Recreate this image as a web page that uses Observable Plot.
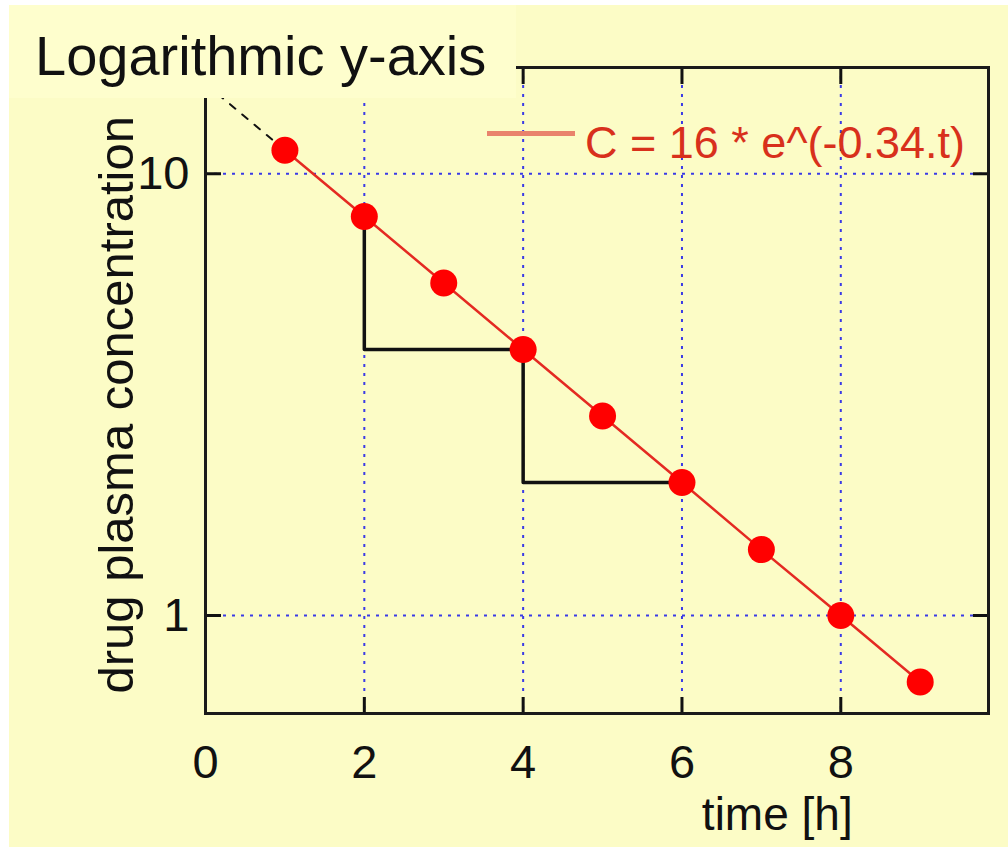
<!DOCTYPE html>
<html>
<head>
<meta charset="utf-8">
<script src="https://cdn.jsdelivr.net/npm/d3@7"></script>
<script src="https://cdn.jsdelivr.net/npm/@observablehq/plot@0.6"></script>
<style>
  html, body { margin: 0; padding: 0; background: #ffffff; }
  #wrap { position: relative; width: 1008px; height: 847px; background: #ffffff; overflow: hidden; }
  #chart { position: absolute; left: 9px; top: 5px; }
  #title { position: absolute; left: 9px; top: 5px; width: 507px; height: 93px; background: #fefecd; }
  #title span { position: absolute; left: 26px; top: 23px; font: 56px/1 "Liberation Sans", Arial, sans-serif; color: #111; white-space: nowrap; }
  #legend { position: absolute; left: 487px; top: 118px; height: 45px; white-space: nowrap; }
  #legend svg { position: absolute; left: 0; top: 0; }
  #legend span { position: absolute; left: 98px; top: 2px; font: 45px/1 "Liberation Sans", Arial, sans-serif; color: #d8301c; }
</style>
</head>
<body>
<div id="wrap">
  <div id="chart"></div>
  <div id="title"><span>Logarithmic y-axis</span></div>
  <div id="legend"></div>
</div>
<script>
// ---- data ----
const times = [1, 2, 3, 4, 5, 6, 7, 8, 9];
const concentrations = [11.3, 8, 5.66, 4, 2.83, 2, 1.41, 1, 0.707];
const extrapTimes = [0, 1];
const extrapValues = [16, 11.3];
const stepTimes = [2, 2, 4, 4, 6];
const stepValues = [8, 4, 4, 2, 2];
const xTicks = [0, 2, 4, 6, 8];
const xGrid = [2, 4, 6, 8];
const yTicks = [1, 10];
const titleText = "Logarithmic y-axis";
const xLabel = "time [h]";
const yLabel = "drug plasma concentration";
const legendText = "C = 16 * e^(-0.34.t)";

const points = times.map((t, i) => ({t, c: concentrations[i]}));
const extrap = extrapTimes.map((t, i) => ({t, c: extrapValues[i]}));
const steps = stepTimes.map((t, i) => ({t, c: stepValues[i]}));

const font = '"Liberation Sans", Arial, sans-serif';
const gridStyle = {stroke: "#3a3ae6", strokeOpacity: 1, strokeWidth: 2, strokeDasharray: "3,6"};

const chart = Plot.plot({
  width: 999,
  height: 842,
  marginLeft: 196,
  marginRight: 20,
  marginTop: 62,
  marginBottom: 134,
  style: {background: "#fcfcc6", fontFamily: font, fontSize: "47px", color: "#111"},
  x: {domain: [0, 9.86], axis: null},
  y: {type: "log", domain: [0.6, 17.4], axis: null},
  marks: [
    Plot.gridX(xGrid, gridStyle),
    Plot.gridY(yTicks, gridStyle),
    // axes with inward ticks
    Plot.axisX(xTicks, {anchor: "bottom", label: null, tickSize: -16, tickPadding: 47, tickFormat: d => String(d), stroke: "#111", strokeWidth: 3, fill: "#111", fontSize: 47}),
    Plot.axisX(xGrid, {anchor: "top", label: null, tickSize: -16, tickFormat: () => "", stroke: "#111", strokeWidth: 3}),
    Plot.axisY(yTicks, {anchor: "left", label: null, tickSize: -16, tickPadding: 32, tickFormat: d => String(d), stroke: "#111", strokeWidth: 3, fill: "#111", fontSize: 47}),
    Plot.axisY(yTicks, {anchor: "right", label: null, tickSize: -16, tickFormat: () => "", stroke: "#111", strokeWidth: 3}),
    Plot.frame({stroke: "#1a1a1a", strokeWidth: 3}),
    // dashed extrapolation
    Plot.line(extrap, {x: "t", y: "c", stroke: "#111", strokeWidth: 2, strokeDasharray: "7,9"}),
    // half-life steps
    Plot.line(steps, {x: "t", y: "c", stroke: "#111", strokeWidth: 3.5, curve: "linear"}),
    // fitted line
    Plot.line(points, {x: "t", y: "c", stroke: "#e42a22", strokeWidth: 2.5}),
    Plot.dot(points, {x: "t", y: "c", r: 13.5, fill: "#ff0000", stroke: "none"}),
    // axis labels
    Plot.text([xLabel], {x: () => 7.2, frameAnchor: "bottom", dy: 102, text: d => d, fontSize: 46, fill: "#111", lineAnchor: "middle"}),
    Plot.text([yLabel], {y: () => 3.0, frameAnchor: "left", dx: -88, rotate: -90, text: d => d, fontSize: 49, fill: "#111", lineAnchor: "middle", textAnchor: "middle"})
  ]
});
document.getElementById("chart").appendChild(chart);

// legend
const leg = document.getElementById("legend");
leg.innerHTML = `<svg width="90" height="45"><line x1="0" x2="88" y1="15.5" y2="15.5" stroke="#e9836c" stroke-width="5"/></svg><span></span>`;
leg.querySelector("span").textContent = legendText;
document.querySelector("#title span").textContent = titleText;
</script>
</body>
</html>
